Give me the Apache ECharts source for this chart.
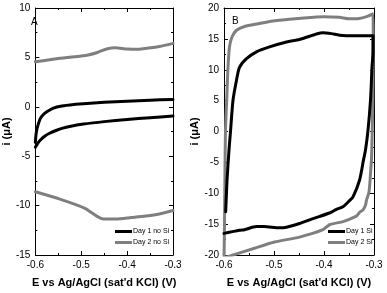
<!DOCTYPE html>
<html><head><meta charset="utf-8">
<script src="https://cdn.jsdelivr.net/npm/echarts@6/dist/echarts.min.js"></script>
<style>html,body{margin:0;padding:0;background:#fff}#c{width:387px;height:293px}</style>
</head><body><div id="c"></div>
<script>
// Panel A
const a_day1_upper = [[-0.6,-3.6],[-0.598,-2.6],[-0.594,-1.8],[-0.589,-1.17],[-0.582,-0.75],[-0.575,-0.5],[-0.562,-0.15],[-0.542,0.08],[-0.512,0.25],[-0.495,0.32],[-0.45,0.46],[-0.4,0.57],[-0.35,0.66],[-0.3,0.75]];
const a_day1_lower = [[-0.6,-4.1],[-0.595,-3.7],[-0.589,-3.36],[-0.579,-2.95],[-0.569,-2.68],[-0.555,-2.4],[-0.542,-2.18],[-0.52,-1.95],[-0.495,-1.75],[-0.45,-1.5],[-0.4,-1.28],[-0.35,-1.1],[-0.3,-0.93]];
const a_day2_upper = [[-0.6,4.55],[-0.55,4.9],[-0.5,5.15],[-0.485,5.25],[-0.465,5.5],[-0.445,5.85],[-0.425,5.98],[-0.41,5.9],[-0.4,5.85],[-0.38,5.82],[-0.365,5.88],[-0.33,6.1],[-0.3,6.42]];
const a_day2_lower = [[-0.6,-8.6],[-0.545,-9.37],[-0.492,-10.27],[-0.451,-11.36],[-0.425,-11.36],[-0.39,-11.2],[-0.359,-11.05],[-0.33,-10.85],[-0.3,-10.5]];
// Panel B
const b_day1 = [[-0.5966,-13],[-0.594,-8],[-0.59,-3],[-0.587,0],[-0.582,5.06],[-0.575,8.3],[-0.569,10.4],[-0.555,11.8],[-0.535,12.9],[-0.509,13.7],[-0.475,14.5],[-0.449,14.9],[-0.415,15.8],[-0.402,16.0],[-0.385,15.85],[-0.369,15.6],[-0.34,15.5],[-0.302,15.5],[-0.302,13],[-0.304,10.4],[-0.307,5.1],[-0.312,0.2],[-0.317,-3],[-0.321,-4.6],[-0.329,-7.9],[-0.342,-10.6],[-0.349,-11.2],[-0.362,-12.2],[-0.375,-12.6],[-0.389,-13.2],[-0.422,-14.1],[-0.449,-14.9],[-0.475,-15.5],[-0.489,-15.6],[-0.52,-15.4],[-0.535,-15.4],[-0.559,-15.9],[-0.569,-16.0],[-0.6,-16.5]];
const b_day2 = [[-0.6,-21],[-0.599,-15],[-0.598,-6],[-0.597,0.2],[-0.5946,5.06],[-0.592,10.4],[-0.589,13.7],[-0.584,15.3],[-0.575,16.4],[-0.559,17.0],[-0.532,17.45],[-0.502,17.9],[-0.45,18.3],[-0.4,18.6],[-0.37,18.5],[-0.349,18.25],[-0.33,18.3],[-0.315,18.6],[-0.302,19.05],[-0.3015,15],[-0.3025,5],[-0.3033,1.0],[-0.305,-4.4],[-0.307,-6.8],[-0.310,-9.8],[-0.315,-11.1],[-0.317,-11.9],[-0.322,-12.7],[-0.329,-13.1],[-0.335,-13.7],[-0.355,-14.4],[-0.362,-14.6],[-0.389,-15.1],[-0.402,-15.9],[-0.449,-17.1],[-0.499,-17.9],[-0.539,-18.9],[-0.582,-20],[-0.6,-20.5]];

const xTicks = [-0.6,-0.5,-0.4,-0.3];
const aYRange = [-15,10];
const bYRange = [-20,20];
const legendA = ['Day 1 no Si','Day 2 no Si'];
const legendB = ['Day 1 Si','Day 2 Si'];

const font = 'Liberation Sans, Arial, sans-serif';
const black = '#000000', gray = '#7f7f7f';

function xAx(gi, main){
  return {
    type:'value', gridIndex:gi, min:-0.6, max:-0.3, interval:0.1,
    position: main ? 'bottom' : 'top',
    axisLine:{show:true, onZero:false, lineStyle:{color:'#000',width:1}},
    axisTick:{show:true, inside:true, length:4, lineStyle:{color:'#000'}},
    minorTick:{show:true, splitNumber:2, length:2, lineStyle:{color:'#000'}},
    splitLine:{show:false}, minorSplitLine:{show:false},
    axisLabel:{show:main, fontSize:10, color:'#000', fontFamily:font, margin:5,
      formatter:v=>{const r=Math.round(v*10)/10; return xTicks.includes(r)? String(r):'';}},
    name: main ? "E vs Ag/AgCl (sat'd KCl) (V)" : '',
    nameLocation:'middle', nameGap:22,
    nameTextStyle:{fontSize:11, fontWeight:'bold', color:'#000', fontFamily:font}
  };
}
function yAx(gi, rng, main){
  return {
    type:'value', gridIndex:gi, min:rng[0], max:rng[1], interval:5,
    position: main ? 'left' : 'right',
    axisLine:{show:true, onZero:false, lineStyle:{color:'#000',width:1}},
    axisTick:{show:true, inside:true, length:4, lineStyle:{color:'#000'}},
    minorTick:{show:true, splitNumber:2, length:2, lineStyle:{color:'#000'}},
    splitLine:{show:false}, minorSplitLine:{show:false},
    axisLabel:{show:main, fontSize:10, color:'#000', fontFamily:font, margin:5},
    name: main ? 'i (\u03bcA)' : '',
    nameLocation:'middle', nameGap: gi===0 ? 11 : 12,
    nameTextStyle:{fontSize:11, fontWeight:'bold', color:'#000', fontFamily:font}
  };
}
function ser(name, data, color, xi, yi){
  return {type:'line', name, data, xAxisIndex:xi, yAxisIndex:yi, showSymbol:false, symbol:'none',
    lineStyle:{color, width:3, join:'round', cap:'round'}, itemStyle:{color}, smooth:0.25, clip:true, animation:false};
}

const chart = echarts.init(document.getElementById('c'));
chart.setOption({
  animation:false,
  grid:[
    {left:23, top:8, width:150, height:247},
    {left:224, top:8, width:150, height:247}
  ],
  xAxis:[xAx(0,true), xAx(1,true), xAx(0,false), xAx(1,false)],
  yAxis:[yAx(0,aYRange,true), yAx(1,bYRange,true), yAx(0,aYRange,false), yAx(1,bYRange,false)],
  legend:[
    {data:legendA, orient:'vertical', left:115, top:228, itemWidth:17, itemHeight:3, itemGap:4, icon:'rect', padding:0,
      textStyle:{fontSize:7, color:'#000', fontFamily:font, padding:[0,0,0,-4]}},
    {data:legendB, orient:'vertical', left:328, top:228, itemWidth:17, itemHeight:3, itemGap:4, icon:'rect', padding:0,
      textStyle:{fontSize:7, color:'#000', fontFamily:font, padding:[0,0,0,-4]}}
  ],
  graphic:[
    {type:'text', left:31, top:17, style:{text:'A', fontSize:10, fill:'#000', fontFamily:font}},
    {type:'text', left:232, top:16, style:{text:'B', fontSize:10, fill:'#000', fontFamily:font}}
  ],
  series:[
    ser('Day 1 no Si', a_day1_upper, black, 0, 0),
    ser('Day 1 no Si', a_day1_lower, black, 0, 0),
    ser('Day 2 no Si', a_day2_upper, gray, 0, 0),
    ser('Day 2 no Si', a_day2_lower, gray, 0, 0),
    ser('Day 2 Si', b_day2, gray, 1, 1),
    ser('Day 1 Si', b_day1, black, 1, 1)
  ]
});
</script></body></html>
